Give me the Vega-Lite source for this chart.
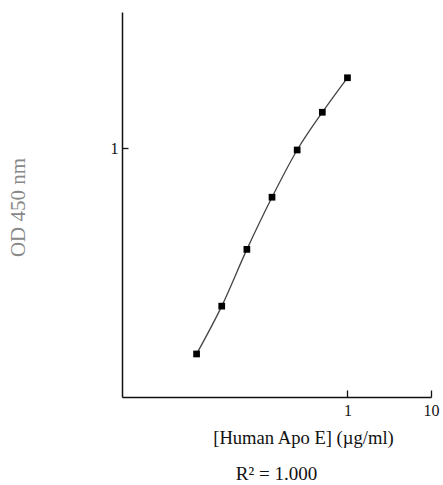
{
  "$schema": "https://vega.github.io/schema/vega-lite/v6.json",
  "width": 309,
  "height": 385,
  "autosize": "none",
  "padding": {"left": 122, "top": 12, "right": 12, "bottom": 88},
  "background": "white",
  "config": {
    "view": {"stroke": null},
    "font": "Liberation Serif",
    "axis": {"grid": false, "domainColor": "#111", "domainWidth": 1.5, "tickColor": "#111", "tickWidth": 1.3, "labelFont": "Liberation Serif", "titleFont": "Liberation Serif", "labelColor": "#111", "titleFontWeight": "normal", "labelFlush": false}
  },
  "title": {"text": "R² = 1.000", "orient": "bottom", "anchor": "middle", "frame": "group", "fontSize": 19, "font": "Liberation Serif", "fontWeight": "normal", "color": "#111", "offset": 18},
  "data": {"values": [
    {"conc": 1, "od": 2.30},
    {"conc": 0.5, "od": 1.53},
    {"conc": 0.25, "od": 0.98},
    {"conc": 0.125, "od": 0.561},
    {"conc": 0.0625, "od": 0.303},
    {"conc": 0.03125, "od": 0.155},
    {"conc": 0.015625, "od": 0.0881}
  ]},
  "encoding": {
    "x": {"field": "conc", "type": "quantitative",
      "scale": {"type": "log", "domain": [0.002, 10], "nice": false},
      "axis": {"values": [1, 10], "format": "~g", "tickSize": -7, "labelPadding": 12, "labelFontSize": 16,
        "title": "[Human Apo E] (µg/ml)", "titleFontSize": 18.6, "titleColor": "#111", "titleX": 181, "titleY": 46, "titleAlign": "center", "titleBaseline": "alphabetic"}},
    "y": {"field": "od", "type": "quantitative",
      "scale": {"type": "log", "domain": [0.053, 5], "nice": false},
      "axis": {"values": [1], "format": "~g", "tickSize": -6, "labelPadding": 10, "labelFontSize": 16,
        "title": "OD 450 nm", "titleFontSize": 21, "titleColor": "#888", "titleAngle": -90, "titleX": -104, "titleY": 195, "titleAlign": "center", "titleBaseline": "middle"}}
  },
  "layer": [
    {"mark": {"type": "line", "interpolate": "monotone", "color": "#444", "strokeWidth": 1.3}},
    {"mark": {"type": "point", "shape": "square", "filled": true, "color": "#000", "size": 45, "opacity": 1}}
  ]
}
